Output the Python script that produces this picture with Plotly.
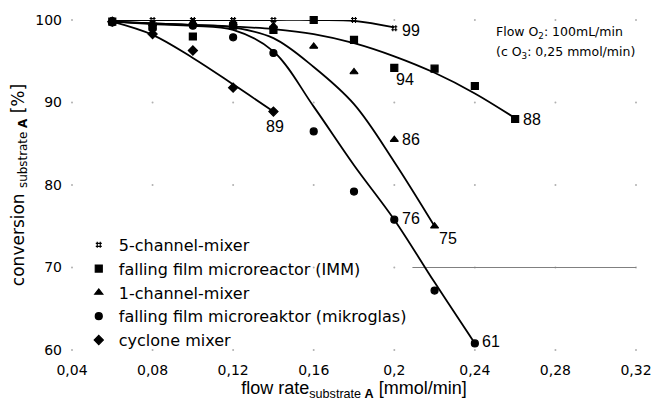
import itertools
import plotly.graph_objects as go

FONT = "Liberation Sans, Arial, sans-serif"
WIDE = "DejaVu Sans, Liberation Sans, sans-serif"

# ---------------- data ----------------
x_ticks = [0.04, 0.08, 0.12, 0.16, 0.20, 0.24, 0.28, 0.32]
x_tick_text = ["0,04", "0,08", "0,12", "0,16", "0,2", "0,24", "0,28", "0,32"]
y_ticks = [60, 70, 80, 90, 100]
y_tick_text = ["60", "70", "80", "90", "100"]

five_x = [0.06, 0.08, 0.10, 0.12, 0.14, 0.18, 0.20]
five_y = [100, 100, 100, 100, 100, 100, 99.0]
five_trend_x = [0.06, 0.08, 0.10, 0.12, 0.14, 0.16, 0.18, 0.20]
five_trend_y = [100, 100, 100, 100, 100, 100, 99.9, 99.1]

imm_x = [0.06, 0.08, 0.10, 0.12, 0.14, 0.16, 0.18, 0.20, 0.22, 0.24, 0.26]
imm_y = [99.8, 99.2, 98.0, 99.3, 98.8, 100, 97.6, 94.2, 94.1, 92.0, 88.0]
imm_trend_x = [0.06, 0.08, 0.10, 0.12, 0.14, 0.16, 0.18, 0.20, 0.22, 0.24, 0.26]
imm_trend_y = [99.8, 99.6, 99.4, 99.2, 98.9, 98.3, 97.2, 95.6, 93.6, 91.1, 88.1]

one_x = [0.06, 0.08, 0.10, 0.12, 0.14, 0.16, 0.18, 0.20, 0.22]
one_y = [99.8, 99.5, 99.7, 99.6, 99.3, 96.8, 93.7, 85.5, 75.0]
one_trend_x = [0.06, 0.08, 0.10, 0.12, 0.14, 0.16, 0.18, 0.20, 0.22]
one_trend_y = [99.8, 99.6, 99.4, 99.1, 97.8, 94.3, 89.8, 82.8, 75.0]

mik_x = [0.06, 0.08, 0.10, 0.12, 0.14, 0.16, 0.18, 0.20, 0.22, 0.24]
mik_y = [99.7, 99.0, 99.3, 97.9, 96.0, 86.5, 79.2, 75.8, 67.2, 60.8]
mik_trend_x = [0.06, 0.08, 0.10, 0.12, 0.14, 0.16, 0.18, 0.20, 0.22, 0.24]
mik_trend_y = [99.8, 99.5, 99.3, 98.8, 96.2, 89.5, 82.4, 75.8, 68.2, 60.8]

cyc_x = [0.06, 0.08, 0.10, 0.12, 0.14]
cyc_y = [99.8, 98.3, 96.3, 91.8, 88.9]
cyc_trend_x = [0.06, 0.08, 0.10, 0.12, 0.14]
cyc_trend_y = [99.8, 98.2, 95.4, 92.2, 88.9]

ref_line_x = [0.209, 0.32]
ref_line_y = [70, 70]

label_x = [0.20, 0.20, 0.26, 0.20, 0.22, 0.20, 0.24, 0.14]
label_y = [99.0, 94.2, 88.0, 85.5, 75.0, 75.8, 60.8, 88.9]
label_text = ["99", "94", "88", "86", "75", "76", "61", "89"]
label_style = [  # (xanchor, yanchor, xshift, yshift)
    ("left", "middle", 6, -2),
    ("left", "top", 0, -1),
    ("left", "middle", 6, 0),
    ("left", "middle", 6, 0),
    ("left", "top", 2, -2),
    ("left", "middle", 6, 1),
    ("left", "middle", 5, 2),
    ("center", "top", 2, -4),
]

note_lines = ["Flow O<sub>2</sub>: 100mL/min", "(c O<sub>3</sub>: 0,25 mmol/min)"]
note_y = [0.961, 0.901]

series = [
    ("5-channel-mixer", five_x, five_y, five_trend_x, five_trend_y, "hash", 6),
    ("falling film microreactor (IMM)", imm_x, imm_y, imm_trend_x, imm_trend_y, "square", 7),
    ("1-channel-mixer", one_x, one_y, one_trend_x, one_trend_y, "triangle-up", 7),
    ("falling film microreaktor (mikroglas)", mik_x, mik_y, mik_trend_x, mik_trend_y, "circle", 7),
    ("cyclone mixer", cyc_x, cyc_y, cyc_trend_x, cyc_trend_y, "diamond", 7),
]

fig = go.Figure()

# grid intersection dots
gx, gy = zip(*itertools.product(x_ticks, y_ticks))
fig.add_trace(go.Scatter(x=list(gx), y=list(gy), mode="markers",
                         marker=dict(size=2, color="#b0b0b0"),
                         showlegend=False, hoverinfo="skip", cliponaxis=False))

fig.add_trace(go.Scatter(x=ref_line_x, y=ref_line_y, mode="lines",
                         line=dict(color="#808080", width=1),
                         showlegend=False, hoverinfo="skip"))

for name, sx, sy, tx, ty, sym, size in series:
    fig.add_trace(go.Scatter(x=tx, y=ty, mode="lines", line_shape="spline",
                             line=dict(color="black", width=1.8, smoothing=1.0),
                             showlegend=False, hoverinfo="skip", cliponaxis=False))
for name, sx, sy, tx, ty, sym, size in series:
    fig.add_trace(go.Scatter(x=sx, y=sy, mode="markers", name=name,
                             marker=dict(symbol=sym, size=size, color="black",
                                         line=dict(color="black", width=1.2)),
                             cliponaxis=False))

for xv, yv, t, (xa, ya, xs, ys) in zip(label_x, label_y, label_text, label_style):
    fig.add_annotation(x=xv, y=yv, text=t, showarrow=False, xanchor=xa, yanchor=ya,
                       xshift=xs, yshift=ys, font=dict(family=FONT, size=16, color="black"))

for t, yv in zip(note_lines, note_y):
    fig.add_annotation(xref="paper", yref="paper", x=0.749, y=yv, xanchor="left",
                       yanchor="middle", align="left", showarrow=False, text=t,
                       font=dict(family=WIDE, size=12.5, color="black"))

fig.update_layout(
    width=664, height=407,
    margin=dict(l=72, r=16, t=20, b=55),
    paper_bgcolor="white", plot_bgcolor="white",
    font=dict(family=FONT, color="black"),
    legend=dict(x=0.012, y=0.37, xanchor="left", yanchor="top",
                bgcolor="rgba(0,0,0,0)", font=dict(family=WIDE, size=16),
                tracegroupgap=0, itemwidth=30),
    xaxis=dict(range=[0.04, 0.32], tickvals=x_ticks, ticktext=x_tick_text,
               showgrid=False, zeroline=False, showline=False,
               ticklabelstandoff=10, tickfont=dict(family=WIDE, size=14),
               title=dict(text="flow rate<sub>substrate <b>A</b></sub> [mmol/min]",
                          font=dict(family=FONT, size=18), standoff=4)),
    yaxis=dict(range=[60, 100], tickvals=y_ticks, ticktext=y_tick_text,
               showgrid=False, zeroline=False, showline=False,
               ticklabelstandoff=9, tickfont=dict(family=WIDE, size=14),
               title=dict(text="conversion <sub>substrate <b>A</b></sub> [%]",
                          font=dict(family=WIDE, size=17), standoff=6)),
)

fig.write_html("out.html")
